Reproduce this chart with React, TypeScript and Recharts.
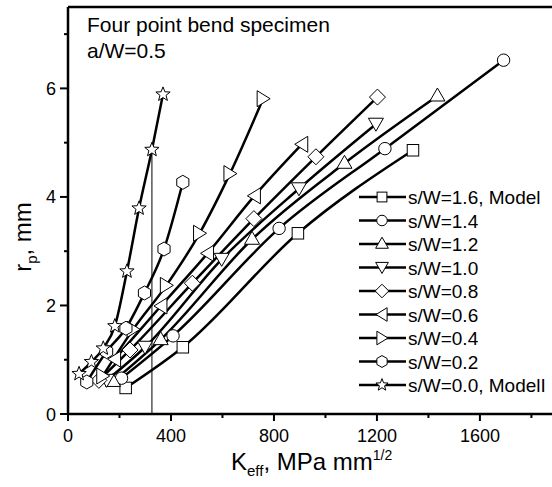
import React from "react";
import { LineChart, Line, XAxis, YAxis, ReferenceLine } from "recharts";

const FONT = "'Liberation Sans', Arial, Helvetica, sans-serif";

// s/W = 1.6, Model (squares)
const K_SW16 = [224, 446, 893, 1340];
const R_SW16 = [0.48, 1.23, 3.33, 4.86];
// s/W = 1.4 (circles)
const K_SW14 = [208, 408, 820, 1231, 1692];
const R_SW14 = [0.66, 1.44, 3.42, 4.89, 6.52];
// s/W = 1.2 (up triangles)
const K_SW12 = [175, 360, 715, 1074, 1435];
const R_SW12 = [0.6, 1.37, 3.22, 4.62, 5.86];
// s/W = 1.0 (down triangles)
const K_SW10 = [150, 299, 597, 897, 1196];
const R_SW10 = [0.62, 1.23, 2.85, 4.15, 5.34];
// s/W = 0.8 (diamonds)
const K_SW08 = [120, 241, 483, 722, 963, 1202];
const R_SW08 = [0.62, 1.18, 2.41, 3.6, 4.74, 5.84];
// s/W = 0.6 (left triangles)
const K_SW06 = [181, 361, 542, 724, 908];
const R_SW06 = [1.01, 1.99, 2.96, 4.02, 4.97];
// s/W = 0.4 (right triangles)
const K_SW04 = [135, 253, 382, 511, 629, 758];
const R_SW04 = [0.7, 1.56, 2.37, 3.33, 4.43, 5.81];
// s/W = 0.2 (hexagons)
const K_SW02 = [73, 150, 225, 297, 373, 446];
const R_SW02 = [0.59, 1.15, 1.58, 2.23, 3.04, 4.27];
// s/W = 0.0, ModeII (stars)
const K_SW00 = [43, 91, 137, 182, 229, 276, 326, 369];
const R_SW00 = [0.74, 0.96, 1.21, 1.62, 2.63, 3.79, 4.87, 5.89];

const SERIES_NAMES = [
  "s/W=1.6, Model",
  "s/W=1.4",
  "s/W=1.2",
  "s/W=1.0",
  "s/W=0.8",
  "s/W=0.6",
  "s/W=0.4",
  "s/W=0.2",
  "s/W=0.0, ModelI",
];
const SHAPES = ["square", "circle", "up", "down", "diamond", "left", "right", "hexagon", "star"];

const X_TICKS = [0, 200, 400, 600, 800, 1000, 1200, 1400, 1600, 1800];
const Y_TICKS = [0, 1, 2, 3, 4, 5, 6, 7];

const MARK_K = 326;
const MARK_R = 4.87;

const zip = (ks: number[], rs: number[]) => ks.map((k, i) => ({ k, r: rs[i] }));

const SERIES = [
  zip(K_SW16, R_SW16),
  zip(K_SW14, R_SW14),
  zip(K_SW12, R_SW12),
  zip(K_SW10, R_SW10),
  zip(K_SW08, R_SW08),
  zip(K_SW06, R_SW06),
  zip(K_SW04, R_SW04),
  zip(K_SW02, R_SW02),
  zip(K_SW00, R_SW00),
];

function Marker({ shape, cx, cy, s = 1 }: { shape: string; cx: number; cy: number; s?: number }) {
  const common = { fill: "#fff", stroke: "#000", strokeWidth: 1 };
  const pts = (arr: number[][]) => arr.map(([x, y]) => `${cx + x * s},${cy + y * s}`).join(" ");
  switch (shape) {
    case "square":
      return <rect x={cx - 5.75 * s} y={cy - 5.75 * s} width={11.5 * s} height={11.5 * s} {...common} />;
    case "circle":
      return <circle cx={cx} cy={cy} r={6.2 * s} {...common} />;
    case "up":
      return <polygon points={pts([[0, -8], [7.5, 5], [-7.5, 5]])} {...common} />;
    case "down":
      return <polygon points={pts([[0, 7], [7.5, -6], [-7.5, -6]])} {...common} />;
    case "diamond":
      return <polygon points={pts([[0, -8], [8, 0], [0, 8], [-8, 0]])} {...common} />;
    case "left":
      return <polygon points={pts([[-7, 0], [6, -8], [6, 8]])} {...common} />;
    case "right":
      return <polygon points={pts([[7, 0], [-6, -8], [-6, 8]])} {...common} />;
    case "hexagon": {
      const a: number[][] = [];
      for (let i = 0; i < 6; i++) {
        const ang = ((-90 + i * 60) * Math.PI) / 180;
        a.push([7 * Math.cos(ang), 7 * Math.sin(ang)]);
      }
      return <polygon points={pts(a)} {...common} />;
    }
    case "star": {
      const a: number[][] = [];
      for (let i = 0; i < 10; i++) {
        const ang = ((-90 + i * 36) * Math.PI) / 180;
        const rad = i % 2 === 0 ? 7.5 : 3.2;
        a.push([rad * Math.cos(ang), rad * Math.sin(ang)]);
      }
      return <polygon points={pts(a)} {...common} />;
    }
    default:
      return null;
  }
}

const XTick = (props: any) => {
  const { x, y, payload } = props;
  const major = payload.value % 400 === 0;
  return (
    <g>
      <line x1={x} x2={x} y1={y} y2={y + (major ? 7 : 4)} stroke="#000" strokeWidth={2} />
      {major && (
        <text x={x} y={y + 28} textAnchor="middle" fontSize={18} fontFamily={FONT} fill="#000">
          {payload.value}
        </text>
      )}
    </g>
  );
};

const YTick = (props: any) => {
  const { x, y, payload } = props;
  const major = payload.value % 2 === 0;
  return (
    <g>
      <line x1={x - (major ? 8 : 4)} x2={x} y1={y} y2={y} stroke="#000" strokeWidth={2} />
      {major && (
        <text x={x - 12} y={y + 6.5} textAnchor="end" fontSize={18} fontFamily={FONT} fill="#000">
          {payload.value}
        </text>
      )}
    </g>
  );
};

export default function App() {
  return (
    <div style={{ position: "absolute", left: 0, top: 0, width: 552, height: 487, overflow: "hidden", background: "#fff" }}>
      <LineChart width={552} height={487} margin={{ top: 7, right: 0, bottom: 0, left: 0 }}>
        <XAxis
          type="number"
          dataKey="k"
          domain={[0, 1880]}
          ticks={X_TICKS}
          interval={0}
          height={73}
          tickSize={0}
          tickMargin={0}
          tickLine={false}
          tick={<XTick />}
          axisLine={{ stroke: "#000", strokeWidth: 2.5 }}
          allowDataOverflow
        />
        <YAxis
          type="number"
          dataKey="r"
          domain={[0, 7.5]}
          ticks={Y_TICKS}
          interval={0}
          width={68}
          tickSize={0}
          tickMargin={0}
          tickLine={false}
          tick={<YTick />}
          axisLine={{ stroke: "#000", strokeWidth: 2.5 }}
          allowDataOverflow
        />
        <ReferenceLine y={7.5} stroke="#000" strokeWidth={2.5} ifOverflow="visible" />
        <ReferenceLine
          segment={[
            { x: MARK_K, y: 0 },
            { x: MARK_K, y: MARK_R },
          ]}
          stroke="#000"
          strokeWidth={1}
        />
        {SERIES.map((d, i) => (
          <Line
            key={"l" + i}
            data={d}
            dataKey="r"
            type="monotone"
            stroke="#000"
            strokeWidth={2.5}
            dot={false}
            activeDot={false}
            isAnimationActive={false}
            legendType="none"
          />
        ))}
        {SERIES.map((d, i) => (
          <Line
            key={"m" + i}
            data={d}
            dataKey="r"
            stroke="none"
            strokeWidth={0}
            dot={(p: any) => <Marker key={`m${i}-${p.index}`} shape={SHAPES[i]} cx={p.cx} cy={p.cy} />}
            activeDot={false}
            isAnimationActive={false}
            legendType="none"
          />
        ))}
      </LineChart>
      <svg width={552} height={487} style={{ position: "absolute", left: 0, top: 0, pointerEvents: "none" }}>
        <text x={87} y={32} fontSize={21} fontFamily={FONT} fill="#000">Four point bend specimen</text>
        <text x={87} y={58} fontSize={21} fontFamily={FONT} fill="#000">a/W=0.5</text>
        {SERIES_NAMES.map((name, i) => {
          const y = 197 + i * 23.5;
          return (
            <g key={name}>
              <line x1={359} x2={406} y1={y} y2={y} stroke="#000" strokeWidth={2.5} />
              <Marker shape={SHAPES[i]} cx={382} cy={y} s={0.85} />
              <text x={408} y={y + 7} fontSize={19} fontFamily={FONT} fill="#000">{name}</text>
            </g>
          );
        })}
        <text x={231} y={470} fontSize={24} fontFamily={FONT} fill="#000">
          K<tspan fontSize={15} dy={6}>eff</tspan>
          <tspan dy={-6}>, MPa mm</tspan>
          <tspan fontSize={14} dy={-10}>1/2</tspan>
        </text>
        <text transform="translate(31,237) rotate(-90)" textAnchor="middle" fontSize={24} fontFamily={FONT} fill="#000">
          r<tspan fontSize={15} dy={6}>p</tspan>
          <tspan dy={-6}>, mm</tspan>
        </text>
      </svg>
    </div>
  );
}
